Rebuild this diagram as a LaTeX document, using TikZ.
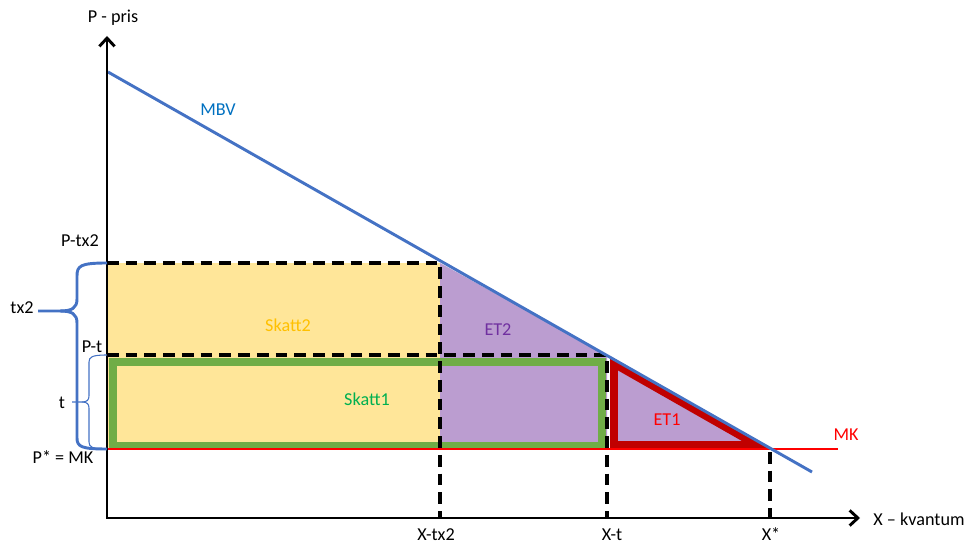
\documentclass[tikz,border=0pt]{standalone}
\usepackage{fontspec}
\setmainfont{Carlito}
\usetikzlibrary{arrows.meta}

\definecolor{mbvblue}{RGB}{68,114,196}
\definecolor{mbvtext}{RGB}{0,112,192}
\definecolor{skattyellow}{RGB}{255,230,153}
\definecolor{skattgold}{RGB}{255,192,0}
\definecolor{etpurple}{RGB}{187,157,208}
\definecolor{etpurpletext}{RGB}{112,48,160}
\definecolor{skattgreen}{RGB}{112,173,71}
\definecolor{skattgreentext}{RGB}{0,176,80}
\definecolor{etdarkred}{RGB}{192,0,0}

\begin{document}
\begin{tikzpicture}[
  x=0.03cm, y=-0.03cm,
  every node/.style={font=\fontsize{15.5}{18}\selectfont, inner sep=0pt},
  axisline/.style={line width=2.5pt, -{Straight Barb[length=7pt, width=13pt, line width=2.5pt]}},
  guide/.style={line width=3pt, dash pattern=on 10pt off 6pt},
  bracepath/.style={mbvblue, line width=2.5pt, line join=round},
]
  \useasboundingbox (0,0) rectangle (969,545);

  % key points
  \coordinate (O)     at (107,518);
  \coordinate (ytop)  at (107,36);
  \coordinate (xend)  at (860,518);
  \coordinate (Ptx2)  at (107,263);
  \coordinate (Pt)    at (107,355);
  \coordinate (Pstar) at (107,449);
  \coordinate (Atx2)  at (440,263);
  \coordinate (At)    at (607,355);
  \coordinate (Astar) at (770,449);

  % areas
  \fill[skattyellow] (Ptx2) rectangle (440,449);
  \fill[etpurple] (Atx2) -- (At) -- (607,449) -- (440,449) -- cycle;
  \draw[skattgreen, line width=6pt] (113,362) rectangle (602,446);
  \fill[etpurple] (610,356) -- (610,449) -- (Astar) -- cycle;
  \draw[etdarkred, line width=6.8pt, line join=miter]
    (614,363.6) -- (614,445) -- (757,445) -- cycle;

  % guides
  \draw[guide] (Ptx2) -- (Atx2) -- (440,518);
  \draw[guide] (Pt) -- (At) -- (607,518);
  \draw[guide] (770,452) -- (770,518);

  % curves
  \draw[red, line width=1.7pt] (Pstar) -- (838,449) coordinate (mkend);
  \draw[mbvblue, line width=2.5pt] (108,72) coordinate (mbvstart) -- (812,472) coordinate (mbvend);

  % axes
  \draw[axisline] (107,519) -- (ytop);
  \draw[axisline] (106,518) -- (xend);

  % braces
  \draw[bracepath] (Ptx2) .. controls (80,263) and (77,266) .. (77,276) -- (77,299)
    .. controls (77,308) and (72,311) .. (60,311) -- (38,311);
  \draw[bracepath] (60,311) .. controls (72,311) and (77,314) .. (77,323) -- (77,438)
    .. controls (77,447) and (82,449) .. (Pstar);
  \draw[mbvblue, line width=0.9pt] (Pt) .. controls (92,355) and (89,357) .. (89,362) -- (89,396)
    .. controls (89,400) and (87,402) .. (82,402) -- (72,402);
  \draw[mbvblue, line width=0.9pt] (82,402) .. controls (87,402) and (89,404) .. (89,408) -- (89,442)
    .. controls (89,447) and (92,449) .. (Pstar);

  % labels
  \node (lblP)     at (113,18)  {P - pris};
  \node (lblX)     at (919,519) {X – kvantum};
  \node[text=mbvtext] (lblMBV) at (218,110) {MBV};
  \node[text=red] (lblMK)      at (846,435) {MK};
  \node[text=skattgold] (lblS2)        at (288,325) {Skatt2};
  \node[text=skattgreentext] (lblS1)   at (367,399) {Skatt1};
  \node[text=etpurpletext] (lblET2)    at (498,330) {ET2};
  \node[text=red] (lblET1)             at (667,420) {ET1};
  \node (lblPtx2)  at (80,241)  {P-tx2};
  \node (lbltx2)   at (22,308)  {tx2};
  \node (lblPt)    at (92,347)  {P-t};
  \node (lblt)     at (62,403)  {t};
  \node (lblPstar) at (63,457)  {P* = MK};
  \node (lblXtx2)  at (436,535) {X-tx2};
  \node (lblXt)    at (612,535) {X-t};
  \node (lblXstar) at (771,534) {X*};
\end{tikzpicture}
\end{document}
